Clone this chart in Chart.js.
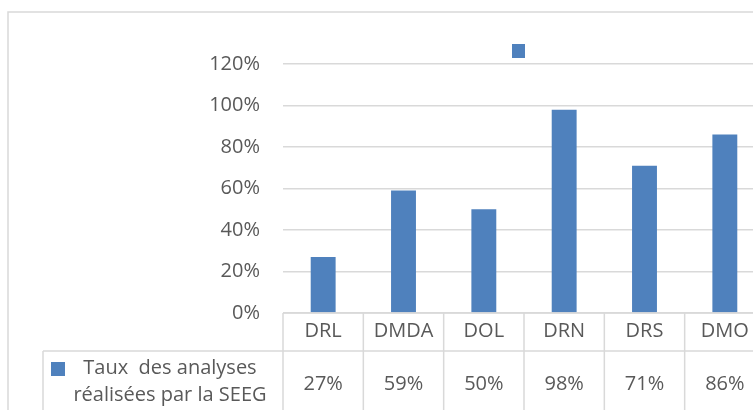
<!DOCTYPE html>
<html><head><meta charset="utf-8">
<script src="https://cdn.jsdelivr.net/npm/chart.js@4.4.0/dist/chart.umd.min.js"></script>
<style>
html,body{margin:0;padding:0;background:#fff;overflow:hidden;}
#wrap{width:753px;height:410px;overflow:hidden;position:relative;}
#box{width:800px;height:410px;position:absolute;left:0;top:0;}
</style></head>
<body><div id="wrap"><div id="box"><canvas id="c" width="800" height="410"></canvas></div></div>
<script>
const categories = ["DRL", "DMDA", "DOL", "DRN", "DRS", "DMO"];
const values = [27, 59, 50, 98, 71, 86];
const seriesName = ["Taux  des analyses", "réalisées par la SEEG"];
const yTickMax = 120;
const yTickStep = 20;

const FONT = "'Open Sans', sans-serif";
const FSIZE = 20;
const TXT = "#595959";
const LINE = "#d9d9d9";
const BAR = "#4f81bd";

const tablePlugin = {
  id: 'tablePlugin',
  afterDraw(chart) {
    const ctx = chart.ctx;
    const x = chart.scales.x, a = chart.chartArea;
    const n = categories.length;
    const w = (a.right - a.left) / n;
    const yTop = a.bottom, yMid = 351, yBot = 420;
    const legLeft = 43;
    ctx.save();
    ctx.strokeStyle = LINE; ctx.lineWidth = 1.5;
    ctx.strokeRect(8, 12, 780, 420);
    ctx.beginPath();
    ctx.moveTo(a.left, yTop); ctx.lineTo(a.right, yTop);
    ctx.moveTo(legLeft, yMid); ctx.lineTo(a.right, yMid);
    for (let i = 0; i <= n; i++) {
      const xx = a.left + i * w;
      ctx.moveTo(xx, yTop); ctx.lineTo(xx, yBot);
    }
    ctx.moveTo(legLeft, yMid); ctx.lineTo(legLeft, yBot);
    ctx.stroke();
    ctx.fillStyle = TXT;
    ctx.font = FSIZE + "px " + FONT;
    ctx.textAlign = 'center'; ctx.textBaseline = 'middle';
    values.forEach((v, i) => {
      ctx.fillText(v + '%', x.getPixelForValue(i), 384);
    });
    ctx.fillText(seriesName[0], 170, 368);
    ctx.fillText(seriesName[1], 170, 395);
    ctx.fillStyle = BAR;
    ctx.fillRect(51, 362, 14, 14);
    ctx.fillRect(512, 44, 13, 14);
    ctx.restore();
  }
};

new Chart(document.getElementById('c'), {
  type: 'bar',
  data: {
    labels: categories,
    datasets: [{
      label: seriesName.join(' '),
      data: values,
      backgroundColor: BAR,
      borderWidth: 0,
      categoryPercentage: 1,
      barPercentage: 0.31
    }]
  },
  options: {
    responsive: false,
    animation: false,
    devicePixelRatio: 1,
    layout: { padding: { left: 0, right: 35, top: 64, bottom: 0 } },
    plugins: { legend: { display: false }, tooltip: { enabled: false } },
    scales: {
      x: {
        grid: { display: false },
        border: { display: false },
        ticks: { color: TXT, font: { family: FONT, size: FSIZE }, padding: -2, maxRotation: 0 },
        afterFit(s) { s.height = 97; }
      },
      y: {
        min: 0, max: yTickMax,
        grid: { color: LINE, lineWidth: 1.5, drawTicks: false },
        border: { display: false },
        ticks: { stepSize: yTickStep, color: TXT, font: { family: FONT, size: FSIZE }, padding: 23,
                 callback: v => v + '%' },
        afterFit(s) { s.width = 283; }
      }
    }
  },
  plugins: [tablePlugin]
});
</script></body></html>
